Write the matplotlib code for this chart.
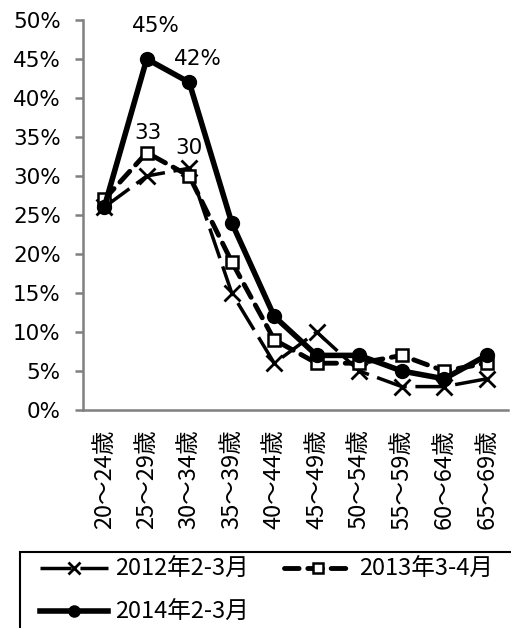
import matplotlib
matplotlib.use("Agg")
import matplotlib.pyplot as plt
from matplotlib.patches import Rectangle
from matplotlib.ticker import FuncFormatter

plt.rcParams['font.family'] = ['DejaVu Sans', 'Noto Sans CJK JP']
cjk = ['Noto Sans CJK JP', 'DejaVu Sans']

# データ
categories = ["20～24歳", "25～29歳", "30～34歳", "35～39歳", "40～44歳",
              "45～49歳", "50～54歳", "55～59歳", "60～64歳", "65～69歳"]
s2012 = [26, 30, 31, 15, 6, 10, 5, 3, 3, 4]
s2013 = [27, 33, 30, 19, 9, 6, 6, 7, 5, 6]
s2014 = [26, 45, 42, 24, 12, 7, 7, 5, 4, 7]
labels = ["2012年2-3月", "2013年3-4月", "2014年2-3月"]

fig = plt.figure(figsize=(5.11, 6.28), dpi=100)
ax = fig.add_axes([83 / 511, 1 - 410 / 628, 425 / 511, 390 / 628])

x = list(range(len(categories)))
l1, = ax.plot(x, s2012, color='black', lw=2.5, dashes=(9, 2.5), marker='x',
              ms=11, mew=2, label=labels[0])
l2, = ax.plot(x, s2013, color='black', lw=3.5, dashes=(3, 1.8), dash_capstyle='round',
              marker='s', ms=9, mfc='white', mew=1.8, label=labels[1])
l3, = ax.plot(x, s2014, color='black', lw=4, marker='o', ms=10, label=labels[2])

# データラベル
ax.annotate("45%", (1, s2014[1]), xytext=(6.5, 23.5), textcoords='offset points',
            ha='center', va='center', fontsize=15.5)
ax.annotate("42%", (2, s2014[2]), xytext=(6, 17), textcoords='offset points',
            ha='center', va='center', fontsize=15.5)
ax.annotate("33", (1, s2013[1]), xytext=(1, 14), textcoords='offset points',
            ha='center', va='center', fontsize=15.5)
ax.annotate("30", (2, s2013[2]), xytext=(0, 20), textcoords='offset points',
            ha='center', va='center', fontsize=15.5)

ax.set_xlim(-0.5, len(categories) - 0.5)
ax.set_ylim(0, 50)
ax.set_yticks(range(0, 51, 5))
ax.yaxis.set_major_formatter(FuncFormatter(lambda v, p: f"{int(v)}%"))
ax.set_xticks(x)
ax.set_xticklabels(categories, rotation=90, fontsize=17, family=cjk)

for s in ['top', 'right']:
    ax.spines[s].set_visible(False)
for s in ['left', 'bottom']:
    ax.spines[s].set_color('#808080')
    ax.spines[s].set_linewidth(1.8)
ax.tick_params(axis='y', length=6, width=1.8, color='#808080', pad=10, labelsize=15.5)
ax.tick_params(axis='x', length=0, pad=14)

# 凡例の枠
fig.patches.append(Rectangle((20 / 511, -0.1), 1.0, (628 - 552) / 628 + 0.1,
                             transform=fig.transFigure, fill=False,
                             edgecolor='black', lw=1.5, clip_on=False))
# 行優先で並べるため順序を入れ替え
fig.legend([l1, l3, l2], [labels[0], labels[2], labels[1]],
           loc='upper left', bbox_to_anchor=(40 / 511, 1 - 558 / 628), ncol=2,
           frameon=False, prop={'family': cjk, 'size': 17}, handlelength=2.9,
           handletextpad=0.3, columnspacing=1.45, labelspacing=0.85, borderpad=0,
           borderaxespad=0, markerscale=0.8)

fig.savefig("out.png", dpi=100)
